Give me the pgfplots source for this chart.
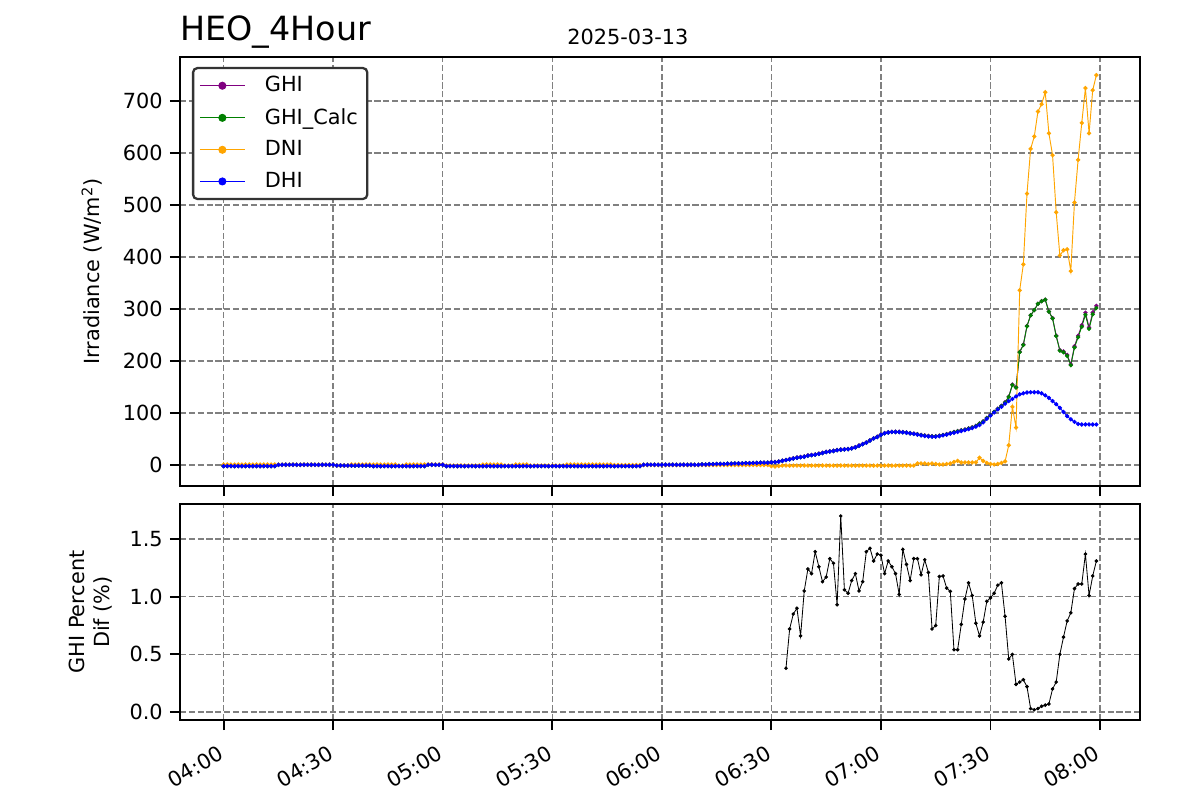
\documentclass[border=0pt]{standalone}
\usepackage{fontspec}
\setmainfont{DejaVu Sans}
\usepackage{pgfplots}
\usepackage{pgfplotstable}
\pgfplotsset{compat=1.18}

% t = minutes after 04:00
\pgfplotstableread{
t ghi calc dni dhi
0 -2 -2 1 -2
1 -2 -2 1 -2
2 -2 -2 1 -2
3 -2 -2 1 -2
4 -2 -2 1 -2
5 -2 -2 1 -2
6 -2 -2 1 -2
7 -2 -2 1 -2
8 -2 -2 1 -2
9 -2 -2 1 -2
10 -2 -2 1 -2
11 -2 -2 1 -2
12 -2 -2 1 -2
13 -2 -2 1 -2
14 -2 -2 1 -2
15 0.5 0.5 0.5 0.5
16 0.5 0.5 0.5 0.5
17 0.5 0.5 0.5 0.5
18 0.5 0.5 0.5 0.5
19 0.5 0.5 0.5 0.5
20 0.5 0.5 0.5 0.5
21 0.5 0.5 0.5 0.5
22 0.5 0.5 0.5 0.5
23 0.5 0.5 0.5 0.5
24 0.5 0.5 0.5 0.5
25 0.5 0.5 0.5 0.5
26 0.5 0.5 0.5 0.5
27 0.5 0.5 0.5 0.5
28 0.5 0.5 0.5 0.5
29 0.5 0.5 0.5 0.5
30 0.5 0.5 0.5 0.5
31 -1 -1 -1 -1
32 -1 -1 -1 -1
33 -1 -1 -1 -1
34 -1 -1 -1 -1
35 -1 -1 1 -1
36 -1 -1 1 -1
37 -1 -1 1 -1
38 -1 -1 1 -1
39 -1 -1 1 -1
40 -1 -1 1 -1
41 -2 -2 1 -2
42 -2 -2 1 -2
43 -2 -2 1 -2
44 -2 -2 1 -2
45 -2 -2 1 -2
46 -2 -2 1 -2
47 -2 -2 1 -2
48 -2 -2 -1 -2
49 -2 -2 -1 -2
50 -2 -2 1 -2
51 -2 -2 1 -2
52 -2 -2 1 -2
53 -2 -2 1 -2
54 -2 -2 1 -2
55 -2 -2 1 -2
56 0.5 0.5 1 0.5
57 0.5 0.5 1 0.5
58 0.5 0.5 1 0.5
59 0.5 0.5 1 0.5
60 0.5 0.5 1 0.5
61 -2 -2 -1 -2
62 -2 -2 -1 -2
63 -2 -2 -1 -2
64 -2 -2 -1 -2
65 -2 -2 -1 -2
66 -2 -2 -1 -2
67 -2 -2 -1 -2
68 -2 -2 -1 -2
69 -2 -2 -1 -2
70 -2 -2 -1 -2
71 -2 -2 1 -2
72 -2 -2 1 -2
73 -2 -2 1 -2
74 -2 -2 1 -2
75 -2 -2 1 -2
76 -2 -2 1 -2
77 -2 -2 -1 -2
78 -2 -2 -1 -2
79 -2 -2 -1 -2
80 -2 -2 1 -2
81 -2 -2 1 -2
82 -2 -2 1 -2
83 -2 -2 1 -2
84 -2 -2 -1 -2
85 -2 -2 -1 -2
86 -2 -2 -1 -2
87 -2 -2 -1 -2
88 -2 -2 -1 -2
89 -2 -2 -1 -2
90 -2 -2 -1 -2
91 -2 -2 -1 -2
92 -2 -2 -1 -2
93 -2 -2 -1 -2
94 -2 -2 1 -2
95 -2 -2 1 -2
96 -2 -2 1 -2
97 -2 -2 1 -2
98 -2 -2 1 -2
99 -2 -2 1 -2
100 -2 -2 1 -2
101 -2 -2 1 -2
102 -2 -2 1 -2
103 -2 -2 1 -2
104 -2 -2 1 -2
105 -2 -2 1 -2
106 -2 -2 1 -2
107 -2 -2 0 -2
108 -2 -2 0 -2
109 -2 -2 0 -2
110 -2 -2 0 -2
111 -2 -2 0 -2
112 -2 -2 0 -2
113 -2 -2 0 -2
114 -2 -2 0 -2
115 0.5 0.5 0 0.5
116 0.5 0.5 0 0.5
117 0.5 0.5 0 0.5
118 0.5 0.5 0 0.5
119 0.5 0.5 0 0.5
120 0.5 0.5 0 0.5
121 0.5 0.5 0 0.5
122 0.5 0.5 0 0.5
123 0.5 0.5 0 0.5
124 0.5 0.5 0 0.5
125 0.5 0.5 0 0.5
126 0.5 0.5 0 0.5
127 0.5 0.5 0 0.5
128 0.5 0.5 0 0.5
129 0.5 0.5 0 0.5
130 0.5 0.5 0 0.5
131 1 1 0 1
132 1 1 0 1
133 1.5 1.5 0 1.5
134 1.5 1.5 0 1.5
135 2 2 0 2
136 2 2 0 2
137 2 2 0 2
138 2.5 2.5 0 2.5
139 2.5 2.5 0 2.5
140 3 3 0 3
141 3 3 0 3
142 3 3 0 3
143 3.5 3.5 0 3.5
144 3.5 3.5 0 3.5
145 4 4 0 4
146 4 4 0 4
147 4.5 4.5 0 4.5
148 4.5 4.5 0 4.5
149 4.5 4.5 0 4.5
150 5.5 5 -2 5
151 6 5.5 -3 5.5
152 7 6.5 -2 6.5
153 8.5 8 -1 8
154 10 9.5 -1 9.5
155 11.5 11 -1 11
156 13 12.5 -1 12.5
157 14.5 14 -1 14
158 15.5 15 -1 15
159 16.5 16 -1 16
160 18.5 18 -1 18
161 19.5 19 -1 19
162 20.5 20 -1 20
163 22 21.5 -1 21.5
164 23.5 23 -1 23
165 25.5 25 -1 25
166 26.5 26 -1 26
167 27.5 27 -1 27
168 29 28.5 -1 28.5
169 30 29.5 -1 29.5
170 30.5 30 -1 30
171 31 30.5 -1 30.5
172 32.5 32 -1 32
173 34.5 34 -1 34
174 37.5 37 -1 37
175 40.5 40 -1 40
176 43.5 43 -1 43
177 47.5 47 -1 47
178 51.5 51 -1 51
179 54.5 54 -1 54
180 58.5 58 -1 58
181 61.5 61 -1 61
182 63 62.5 -1 62.5
183 64 63.5 -1 63.5
184 64 63.5 -1 63.5
185 64 63.5 -1 63.5
186 63.5 63 -1 63
187 62.5 62 -1 62
188 61.5 61 -1 61
189 60.5 60 -1 60
190 59.5 59 3 58.5
191 58 57.5 3 57
192 57 56.5 3 56
193 56 55.5 2 55
194 55.5 55 3 54.5
195 55.5 55 2 54.5
196 56.5 56 1 55.5
197 58 57.5 1 57
198 59.5 59 2 58.5
199 61.5 61 3 60.5
200 63.5 63 6 62
201 65.5 65 8 63.5
202 67 66.5 5 65.5
203 68.5 68 5 67
204 70.5 70 5 69
205 72.5 72 5 71
206 75.5 75 5 74
207 80 79.5 14 77
208 84 83.5 8 82
209 90.5 90 4 89
210 96.5 96 2 95
211 102.5 102 1 101
212 108.5 108 2 107
213 114 113.5 4 112
214 121 120 7 118
215 131.6 131 38 123
216 154.8 154 112 127
217 149.4 149 72 132
218 217.6 217 336 136
219 231.6 231 386 138
220 267.6 267 522 139.5
221 288.1 288 608 140
222 298.1 298 632 140
223 310.1 310 680 140
224 315.2 315 694 138
225 318.2 318 717 134
226 295.2 295 638 129
227 282.6 282 596 123
228 248.6 248 486 117
229 221.1 220 403 110
230 218.4 217 413 102
231 211.7 210 415 94
232 193.7 192 373 88
233 228.4 226 505 83
234 248.7 246 587 79
235 269.0 266 658 78
236 293.0 289 725 78
237 264.6 262 638 78
238 293.4 290 721 78
239 306.0 302 750 78
}\datatab

\pgfplotstableread{
t pct
154 0.38
155 0.72
156 0.85
157 0.90
158 0.66
159 1.05
160 1.24
161 1.20
162 1.39
163 1.26
164 1.13
165 1.17
166 1.33
167 1.29
168 0.93
169 1.70
170 1.06
171 1.03
172 1.14
173 1.20
174 1.05
175 1.13
176 1.39
177 1.42
178 1.31
179 1.37
180 1.36
181 1.20
182 1.31
183 1.26
184 1.20
185 1.02
186 1.41
187 1.28
188 1.14
189 1.33
190 1.33
191 1.19
192 1.32
193 1.21
194 0.72
195 0.75
196 1.175
197 1.18
198 1.075
199 1.046
200 0.54
201 0.54
202 0.76
203 0.98
204 1.12
205 1.01
206 0.77
207 0.66
208 0.78
209 0.96
210 0.99
211 1.03
212 1.10
213 1.12
214 0.83
215 0.46
216 0.50
217 0.24
218 0.26
219 0.28
220 0.22
221 0.03
222 0.02
223 0.03
224 0.05
225 0.06
226 0.07
227 0.20
228 0.26
229 0.50
230 0.65
231 0.79
232 0.86
233 1.07
234 1.11
235 1.11
236 1.37
237 1.01
238 1.18
239 1.31
}\pcttab

\definecolor{mplpurple}{HTML}{800080}
\definecolor{mplgreen}{HTML}{008000}
\definecolor{mplorange}{HTML}{FFA500}
\definecolor{mplblue}{HTML}{0000FF}
\definecolor{gridgray}{HTML}{808080}

\pgfplotsset{
  mplbase/.style={
    scale only axis,
    width=460.8pt,
    xmin=-11.95, xmax=250.95,
    axis line style={line width=0.9pt},
    tick align=outside,
    major tick length=4.8pt,
    tick style={line width=0.9pt, black},
    xtick pos=left, ytick pos=left,
    xtick={0,30,...,240},
    grid=major,
    grid style={line width=0.7pt, gridgray, dash pattern=on 2.96pt off 1.28pt},
    tick label style={font=\fontsize{10}{12}\selectfont},
    label style={font=\fontsize{10}{12}\selectfont},
    /pgf/number format/assume math mode=true,
  },
  mplline/.style={line width=0.45pt, mark=*, mark size=0.8pt, mark options={solid}},
}

\begin{document}
\begin{tikzpicture}
\useasboundingbox (0pt,0pt) rectangle (576pt,384pt);

\begin{axis}[mplbase,
  at={(86.4pt,150.7pt)}, anchor=south west,
  height=205.9pt,
  ymin=-40.4, ymax=784.6,
  ytick={0,100,...,700},
  xticklabels={},
  ylabel={Irradiance (W/m\textsuperscript{2})},
  ylabel style={at={(axis description cs:-0.0916,0.5)}, anchor=center},
  legend cell align=left,
  legend style={at={(0.0125,0.977)}, anchor=north west,
    draw=black!80, line width=1.1pt, rounded corners=2pt,
    font=\fontsize{10}{12}\selectfont,
    inner xsep=3pt, inner ysep=2.5pt, row sep=3.4pt, column sep=0pt,
    nodes={inner sep=1.5pt}},
  legend image code/.code={
    \draw[line width=0.45pt, mark=none] (0pt,0pt) -- (21.6pt,0pt);
    \fill (10.8pt,0pt) circle (1.7pt);
    \path (25pt,0pt);
  },
]
\addplot[mplline, color=mplpurple] table[x=t, y=ghi] {\datatab};
\addlegendentry{\hspace{4.5pt}GHI}
\addplot[mplline, color=mplgreen] table[x=t, y=calc] {\datatab};
\addlegendentry{\hspace{4.5pt}GHI\_Calc}
\addplot[mplline, color=mplorange] table[x=t, y=dni] {\datatab};
\addlegendentry{\hspace{4.5pt}DNI}
\addplot[mplline, color=mplblue] table[x=t, y=dhi] {\datatab};
\addlegendentry{\hspace{4.5pt}DHI}
\end{axis}

\begin{axis}[mplbase,
  at={(86.4pt,38.4pt)}, anchor=south west,
  height=103.7pt,
  ymin=-0.069, ymax=1.804,
  ytick={0,0.5,1,1.5},
  yticklabel style={/pgf/number format/.cd, fixed, fixed zerofill, precision=1},
  xticklabels={04:00,04:30,05:00,05:30,06:00,06:30,07:00,07:30,08:00},
  xticklabel style={rotate=30, anchor=north east, inner sep=1pt, xshift=-5pt, yshift=-3.5pt},
  ylabel={GHI Percent\\Dif (\%)},
  ylabel style={align=center, at={(axis description cs:-0.0933,0.5)}, anchor=center},
]
\addplot[line width=0.4pt, color=black, mark=*, mark size=0.65pt, mark options={solid}] table[x=t, y=pct] {\pcttab};
\end{axis}

\node[anchor=base west, inner sep=0pt, font=\fontsize{16}{19}\selectfont] at (86.4pt,364.5pt) {HEO\_4Hour};
\node[anchor=base, inner sep=0pt, font=\fontsize{10}{12}\selectfont] at (301.4pt,362.4pt) {2025-03-13};
\end{tikzpicture}
\end{document}
